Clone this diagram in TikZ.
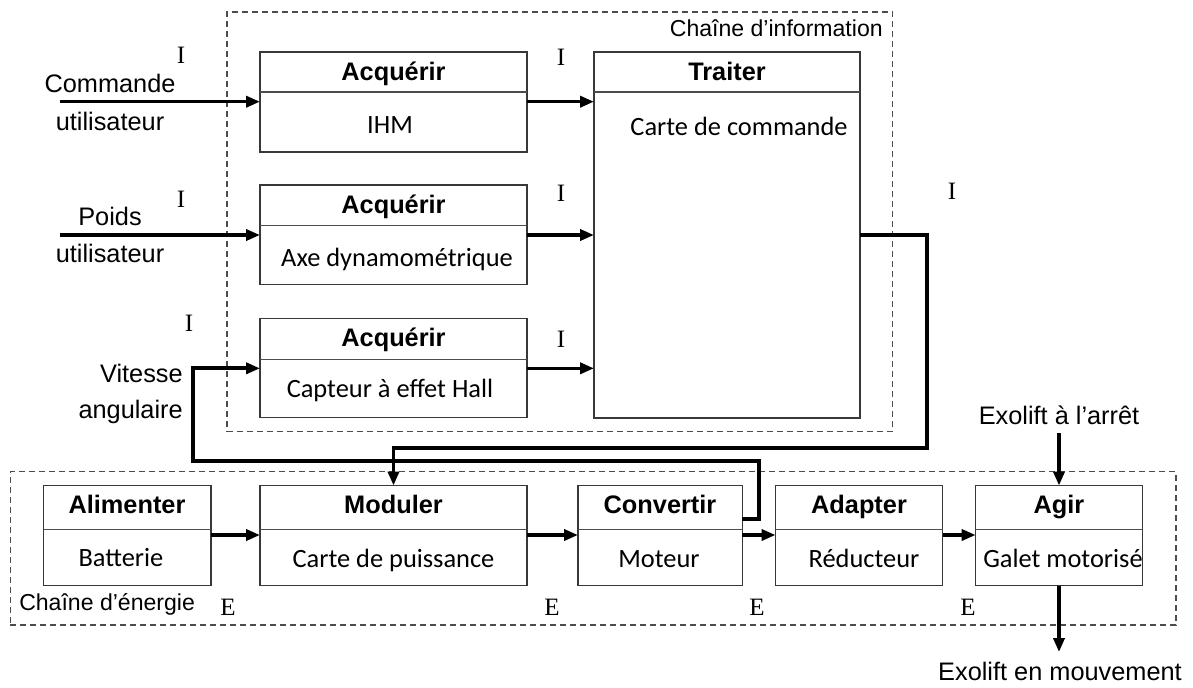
\documentclass[tikz,border=0pt]{standalone}
\usepackage{fontspec}
\setmainfont{Liberation Sans}
\newfontfamily\calib{Carlito}
\newfontfamily\tms{Liberation Serif}
\usetikzlibrary{arrows.meta,fit}
\begin{document}
\begin{tikzpicture}[x=0.75pt,y=-0.75pt,
 blk/.style={draw=black!78, line width=1.1pt, inner sep=0pt, outer sep=0pt},
 div/.style={draw=black!70, line width=1.1pt},
 chain/.style={draw=black!70, line width=0.9pt, dash pattern=on 4.5pt off 3pt, inner sep=0pt, outer sep=0pt},
 ttl/.style={font=\fontsize{19}{22}\selectfont\bfseries, anchor=base, inner sep=0pt},
 body/.style={font=\calib\fontsize{19.8}{23}\selectfont, anchor=base, inner sep=0pt},
 lbl/.style={font=\fontsize{19}{22}\selectfont, anchor=base, inner sep=0pt},
 small/.style={font=\fontsize{17.3}{20}\selectfont, anchor=base, inner sep=0pt},
 sig/.style={font=\tms\fontsize{18.75}{22}\selectfont, inner sep=0pt},
 arr/.style={line width=2.6pt, -{Triangle[length=10.5pt,width=8.3pt]}},
 loopline/.style={line width=2.8pt, -{Triangle[length=10.5pt,width=8.3pt]}}]
\useasboundingbox (0,0) rectangle (1193,687);

% containers
\node[chain, fit={(227,12) (892.7,431.7)}] (infochain) {};
\node[chain, fit={(10.4,471.7) (1176,625)}] (enchain) {};
\node[small, anchor=base east] (lblinfo) at (883,36) {Chaîne d’information};
\node[small, anchor=base west] (lblen) at (19,610) {Chaîne d’énergie};

% information chain blocks
\node[blk, fit={(260,52) (527,152)}] (acq1) {};
\draw[div] (260,92) -- (527,92);
\node[ttl] (acq1t) at (393.5,80) {Acquérir};
\node[body] (acq1b) at (390,133) {IHM};

\node[blk, fit={(260,185) (527,284.5)}] (acq2) {};
\draw[div] (260,225.7) -- (527,225.7);
\node[ttl] (acq2t) at (393.5,213) {Acquérir};
\node[body] (acq2b) at (397,266) {Axe dynamométrique};

\node[blk, fit={(260,318.3) (527,417.7)}] (acq3) {};
\draw[div] (260,359.3) -- (527,359.3);
\node[ttl] (acq3t) at (393.5,346.5) {Acquérir};
\node[body] (acq3b) at (390,397) {Capteur à effet Hall};

\node[blk, fit={(594,52) (860,418)}] (trait) {};
\draw[div] (594,92) -- (860,92);
\node[ttl] (traitt) at (727,80) {Traiter};
\node[body] (traitb) at (739,135) {Carte de commande};

% energy chain blocks
\node[blk, fit={(43.5,485.5) (211,585.5)}] (alim) {};
\draw[div] (43.5,529.3) -- (211,529.3);
\node[ttl] (alimt) at (127,513) {Alimenter};
\node[body] (alimb) at (121,566) {Batterie};

\node[blk, fit={(260,485.5) (527,585.5)}] (mod) {};
\draw[div] (260,529.3) -- (527,529.3);
\node[ttl] (modt) at (393.5,513) {Moduler};
\node[body] (modb) at (393.5,567) {Carte de puissance};

\node[blk, fit={(578,485.5) (742.3,585.5)}] (conv) {};
\draw[div] (578,529.3) -- (742.3,529.3);
\node[ttl] (convt) at (660,513) {Convertir};
\node[body] (convb) at (659,567) {Moteur};

\node[blk, fit={(775.5,485.5) (942.5,585.5)}] (adapt) {};
\draw[div] (775.5,529.3) -- (942.5,529.3);
\node[ttl] (adaptt) at (859,513) {Adapter};
\node[body] (adaptb) at (864,567) {Réducteur};

\node[blk, fit={(975.6,485.5) (1142.5,585.5)}] (agir) {};
\draw[div] (975.6,529.3) -- (1142.5,529.3);
\node[ttl] (agirt) at (1059,513) {Agir};
\node[body] (agirb) at (1063,567) {Galet motorisé};

% external labels
\node[lbl] (cmd1) at (110,92) {Commande};
\node[lbl] (cmd2) at (110,130) {utilisateur};
\node[lbl] (poids1) at (110,225) {Poids};
\node[lbl] (poids2) at (110,262) {utilisateur};
\node[lbl, anchor=base east] (vit1) at (183,382) {Vitesse};
\node[lbl, anchor=base east] (vit2) at (183,418) {angulaire};
\node[lbl] (arret) at (1059,424) {Exolift à l’arrêt};
\node[lbl] (mouv) at (1060,680) {Exolift en mouvement};

% signal labels
\node[sig] (i1) at (181,55) {I};
\node[sig] (i2) at (561,57) {I};
\node[sig] (i3) at (181,199) {I};
\node[sig] (i4) at (561,193) {I};
\node[sig] (i5) at (189,323) {I};
\node[sig] (i6) at (561,339) {I};
\node[sig] (i7) at (952,191) {I};
\node[sig] (e1) at (228,607) {E};
\node[sig] (e2) at (552,607) {E};
\node[sig] (e3) at (757,607) {E};
\node[sig] (e4) at (968,607) {E};

% free ends
\coordinate (cmdin) at (59.5,101.7);
\coordinate (poidsin) at (59.5,235);
\coordinate (arretin) at (1059,433);
\coordinate (mouvout) at (1059,652);

% connectors
\draw[arr] (cmdin) -- (acq1.west |- cmdin);
\draw[arr] (poidsin) -- (acq2.west |- poidsin);
\draw[arr] (acq1.east |- cmdin) -- (trait.west |- cmdin);
\draw[arr] (acq2.east |- poidsin) -- (trait.west |- poidsin);
\draw[arr] (acq3.east |- 0,368.3) -- (trait.west |- 0,368.3);

\draw[loopline] (trait.east |- 0,235) -- (926.7,235) -- (926.7,447.7) -- (mod.north |- 0,447.7) -- (mod.north);
\draw[loopline] (conv.east |- 0,519) -- (759.3,519) -- (759.3,461) -- (192.7,461) -- (192.7,368.3) -- (acq3.west |- 0,368.3);

\draw[arr] (alim.east |- 0,535) -- (mod.west |- 0,535);
\draw[arr] (mod.east |- 0,535) -- (conv.west |- 0,535);
\draw[arr] (conv.east |- 0,535) -- (adapt.west |- 0,535);
\draw[arr] (adapt.east |- 0,535) -- (agir.west |- 0,535);
\draw[arr] (arretin) -- (agir.north -| arretin);
\draw[arr] (agir.south -| mouvout) -- (mouvout);
\end{tikzpicture}
\end{document}
